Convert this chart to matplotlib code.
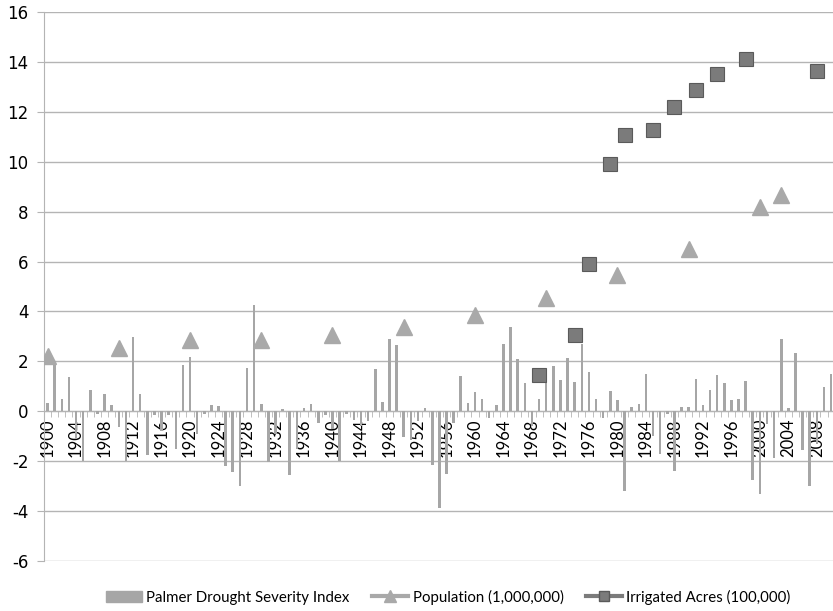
import numpy as np
import matplotlib
matplotlib.use("Agg")
import matplotlib.pyplot as plt
from matplotlib.lines import Line2D
from matplotlib.patches import Patch
from matplotlib.ticker import MultipleLocator, FixedLocator

## data
years = list(range(1900, 2011))
pdsi = [
    0.33, 2.0, 0.5, 1.36, -1.1, -2.0, 0.87, -0.1, 0.71, 0.25,        # 1900s
    -0.63, -2.0, 2.99, 0.68, -1.75, -0.15, -0.8, -0.15, -1.52, 1.86,  # 1910s
    2.16, -0.9, -0.1, 0.27, 0.2, -2.2, -2.44, -3.0, 1.73, 4.25,       # 1920s
    0.29, -2.05, -0.9, 0.08, -2.57, -1.53, 0.15, 0.3, -0.47, -0.15,   # 1930s
    -0.7, -2.0, -0.1, -0.35, -0.6, -0.4, 1.69, 0.36, 2.89, 2.64,      # 1940s
    -1.05, -1.15, -0.4, 0.13, -2.15, -3.87, -2.5, -0.47, 1.43, 0.33,  # 1950s
    0.76, 0.5, -0.27, 0.27, 2.71, 3.37, 2.1, 1.15, -0.6, 0.5,         # 1960s
    1.27, 1.82, 1.27, 2.15, 1.19, 2.71, 1.57, 0.48, -0.28, 0.83,      # 1970s
    0.47, -3.2, 0.18, 0.29, 1.49, -0.98, -1.72, -0.12, -2.4, 0.18,    # 1980s
    0.18, 1.29, 0.27, 0.87, 1.47, 1.12, 0.44, 0.51, 1.23, -2.75,      # 1990s
    -3.31, -0.53, -1.89, 2.89, 0.15, 2.32, -1.54, -3.0, -1.3, 0.96,   # 2000s
    1.49,
]

pop_years = [1900, 1910, 1920, 1930, 1940, 1950, 1960, 1970, 1980, 1990, 2000, 2003]
population = [2.2, 2.55, 2.84, 2.84, 3.05, 3.37, 3.87, 4.53, 5.45, 6.5, 8.2, 8.68]

irr_years = [1969, 1974, 1976, 1979, 1981, 1985, 1988, 1991, 1994, 1998, 2008]
irrigated = [1.45, 3.07, 5.92, 9.89, 11.09, 11.29, 12.21, 12.89, 13.53, 14.1, 13.62]

year_labels = list(range(1900, 2011, 4))

BAR_C = "#a6a6a6"
POP_C = "#a9a9a9"
IRR_C = "#7b7b7b"
IRR_EDGE = "#5a5a5a"
GRID_C = "#b4b4b4"

plt.rcParams["font.family"] = ["Lato", "DejaVu Sans"]
plt.rcParams["axes.unicode_minus"] = False

fig = plt.figure(figsize=(8.33, 6.11), dpi=100)
ax = fig.add_axes([44 / 833, 1 - 561 / 611, (834.7 - 44) / 833, (561 - 12) / 611])

ax.bar(years, pdsi, width=0.36, color=BAR_C, zorder=2)
ax.plot(pop_years, population, linestyle="none", marker="^", markersize=11,
        color=POP_C, markeredgecolor=POP_C, zorder=3)
ax.plot(irr_years, irrigated, linestyle="none", marker="s", markersize=9.5,
        color=IRR_C, markeredgecolor=IRR_EDGE, markeredgewidth=0.8, zorder=3)

ax.set_xlim(1899.5, 2010.5)
ax.set_ylim(-6, 16)
ax.yaxis.set_major_locator(MultipleLocator(2))
ax.grid(axis="y", color=GRID_C, linewidth=1.0, zorder=0)
ax.set_axisbelow(True)

for side in ["top", "right"]:
    ax.spines[side].set_visible(False)
ax.spines["left"].set_color(GRID_C)
ax.spines["bottom"].set_position(("data", 0))
ax.spines["bottom"].set_color(GRID_C)
ax.spines["bottom"].set_zorder(1)

ax.tick_params(axis="y", length=5, color=GRID_C, labelsize=12, pad=6)
for lab in ax.get_yticklabels():
    lab.set_fontfamily("DejaVu Sans")

ax.xaxis.set_major_locator(FixedLocator(year_labels))
ax.xaxis.set_minor_locator(FixedLocator(np.arange(1899.5, 2011, 1)))
ax.set_xticklabels([str(y) for y in year_labels], rotation=90, fontsize=12)
ax.tick_params(axis="x", which="major", length=0, pad=5)
ax.tick_params(axis="x", which="minor", length=4, color=GRID_C, direction="out")

handles = [
    Patch(facecolor=BAR_C, edgecolor=BAR_C),
    Line2D([0], [0], color=POP_C, linewidth=3, marker="^", markersize=8),
    Line2D([0], [0], color=IRR_C, linewidth=3, marker="s", markersize=7,
           markeredgecolor=IRR_EDGE),
]
labels = ["Palmer Drought Severity Index", "Population (1,000,000)", "Irrigated Acres (100,000)"]
fig.legend(handles, labels, loc="center", bbox_to_anchor=(0.538, 1 - 597 / 611), ncol=3,
           frameon=False, fontsize=10.8, handlelength=2.4, handleheight=0.75,
           columnspacing=1.5, handletextpad=0.3)

fig.savefig("out.png", dpi=100)
